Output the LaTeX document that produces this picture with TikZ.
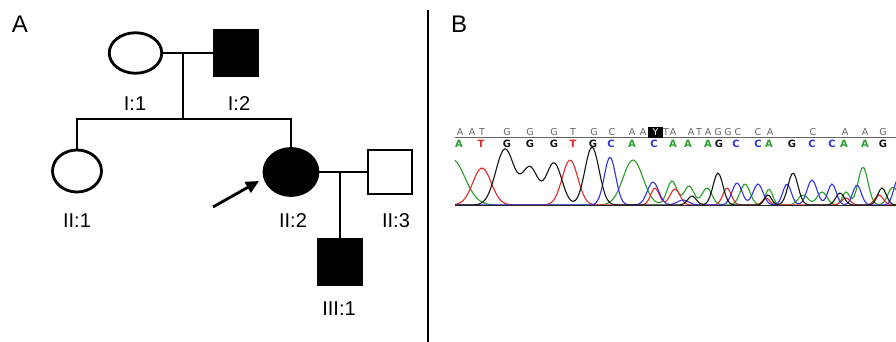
\documentclass[tikz,border=0pt]{standalone}
\usepackage{fontspec}
\setmainfont{Liberation Sans}
\newfontfamily\seqfont{DejaVu Sans}
\usetikzlibrary{shapes.geometric,arrows.meta}
\definecolor{tg}{RGB}{40,160,40}
\definecolor{tr}{RGB}{230,40,40}
\definecolor{tb}{RGB}{50,50,230}
\definecolor{tk}{RGB}{20,20,20}
\definecolor{sg}{RGB}{100,100,100}
\begin{document}
\begin{tikzpicture}[x=1pt,y=-1pt,
  declare function={gs(\xx,\cc,\hh,\ww)=\hh*exp(-min((abs(\xx-\cc)/\ww)^2,15));},
  ped/.style={line width=2.8pt},
  fem/.style={ellipse, draw, line width=2.8pt, inner sep=0pt},
  mal/.style={rectangle, draw, line width=2.8pt, inner sep=0pt},
  aff/.style={fill=black},
  lab/.style={font=\fontsize{20}{24}\selectfont, inner sep=0pt},
  panel/.style={font=\fontsize{24}{28}\selectfont, inner sep=0pt},
  topl/.style={font=\seqfont\fontsize{9.5}{10}\selectfont, text=sg, inner sep=0pt, anchor=base},
  botl/.style={font=\seqfont\bfseries\fontsize{10}{11}\selectfont, inner sep=0pt, anchor=base},
  trace/.style={line width=1.1pt, domain=455:896, samples=221}]
\fill[white] (0,0) rectangle (896,342);
\useasboundingbox (0,0) rectangle (896,342);

% panel labels
\node[panel] (pA) at (20,24) {A};
\node[panel] (pB) at (459,24) {B};

% divider
\coordinate (dT) at (428,10);
\coordinate (dB) at (428,342);
\draw[line width=1.5pt] (dT) -- (dB);

% pedigree
\node[fem, minimum width=52.5pt, minimum height=40.5pt] (I1) at (135.5,53) {};
\node[mal, aff, minimum width=44pt, minimum height=45pt] (I2) at (236,53) {};
\node[fem, minimum width=49pt, minimum height=42pt] (II1) at (77,171) {};
\node[fem, aff, minimum width=54pt, minimum height=47pt] (II2) at (291,172) {};
\node[mal, minimum width=44pt, minimum height=44pt] (II3) at (390,172) {};
\node[mal, aff, minimum width=44pt, minimum height=46pt] (III1) at (340,262) {};

\coordinate (m1) at (183,53);
\coordinate (s1) at (183,119);
\draw[ped] (I1.east) -- (I2.west);
\draw[ped] (m1) -- (s1);
\draw[ped] (II1.north) |- (s1) -| (II2.north);
\draw[ped] (II2.east) -- (II3.west);
\coordinate (m2) at (III1.north |- II2.east);
\draw[ped] (m2) -- (III1.north);

\coordinate (aS) at (213,207);
\coordinate (aE) at (259,181);
\draw[line width=2.8pt, -{Triangle[length=13pt,width=12pt]}] (aS) -- (aE);

\node[lab] (lI1) at (135,104) {I:1};
\node[lab] (lI2) at (239,104) {I:2};
\node[lab] (lII1) at (77,221) {II:1};
\node[lab] (lII2) at (293,221) {II:2};
\node[lab] (lII3) at (396,221) {II:3};
\node[lab] (lIII1) at (339,309) {III:1};

% chromatogram sequence
\coordinate (sl) at (455,137);
\coordinate (sr) at (896,137);
\draw[sg, line width=0.8pt] (sl) -- (sr);
\fill[black] (648,127) rectangle (663,137.5);
\foreach \p/\c in {460/A,472/A,482/T,507/G,530/G,554/G,573/T,594/G,612/C,632/A,643/A,666/T,673/A,691/A,699/T,708/A,718/G,728/G,738/C,758/C,770/A,813/C,845/A,865/A,883/G}
  \node[topl] (t\p) at (\p,135.5) {\c};
\node[topl, text=white] (tY) at (655.5,135.5) {Y};
\foreach \p/\c/\col in {459/A/tg,481/T/tr,507/G/tk,530/G/tk,554/G/tk,573/T/tr,593/G/tk,611/C/tb,632/A/tg,654/C/tb,673/A/tg,688/A/tg,708/A/tg,719/G/tk,736/C/tb,758/C/tb,769/A/tg,792/G/tk,812/C/tb,832/C/tb,844/A/tg,865/A/tg,883/G/tk}
  \node[botl, text=\col] (b\p) at (\p,147.5) {\c};

% traces
\draw[tg, trace] plot (\x, {205 - gs(\x,452,46,18) - gs(\x,633,45,14) - gs(\x,672,24,7) - gs(\x,689,19,7) - gs(\x,707,17,7) - gs(\x,745,21,7) - gs(\x,769,16,5) - gs(\x,803,10,7) - gs(\x,822,13,7) - gs(\x,846,13,5) - gs(\x,863,38,7) - gs(\x,893,18,7)});
\draw[tr, trace] plot (\x, {205 - gs(\x,482,37,13) - gs(\x,570,45,11) - gs(\x,655,17,6) - gs(\x,675,16,7) - gs(\x,727,17,6) - gs(\x,766,7,5) - gs(\x,846,7,6) - gs(\x,879,10,6)});
\draw[tb, trace] plot (\x, {205 - gs(\x,610,48,8) - gs(\x,653,23,8) - gs(\x,683,5,8) - gs(\x,737,22,7) - gs(\x,758,21,7) - gs(\x,787,21,6) - gs(\x,812,25,7) - gs(\x,832,21,6) - gs(\x,857,20,6) - gs(\x,898,26,6)});
\draw[tk, trace] plot (\x, {205 - gs(\x,505,56,13) - gs(\x,530,37,11) - gs(\x,554,42,11) - gs(\x,592,58,10) - gs(\x,692,9,6) - gs(\x,718,32,7) - gs(\x,768,10,5) - gs(\x,793,32,7) - gs(\x,840,12,6) - gs(\x,882,17,6)});

\coordinate (bl) at (455,205.5);
\coordinate (br) at (896,205.5);
\draw[line width=1.2pt, black!85] (bl) -- (br);
\end{tikzpicture}
\end{document}
